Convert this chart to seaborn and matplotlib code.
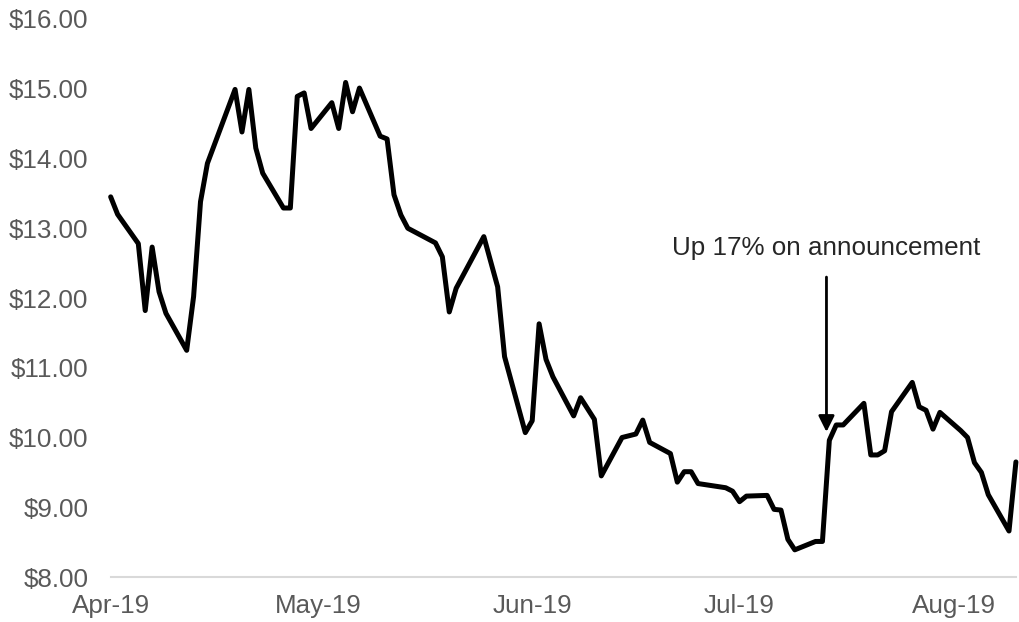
import pandas as pd
import seaborn as sns
import matplotlib.pyplot as plt
import matplotlib.dates as mdates
from matplotlib.ticker import FuncFormatter, MultipleLocator

# Daily closing prices
dates = [
    "2019-04-01", "2019-04-02", "2019-04-05", "2019-04-06", "2019-04-07", "2019-04-08",
    "2019-04-09", "2019-04-12", "2019-04-13", "2019-04-14", "2019-04-15", "2019-04-19",
    "2019-04-20", "2019-04-21", "2019-04-22", "2019-04-23", "2019-04-26", "2019-04-27",
    "2019-04-28", "2019-04-29", "2019-04-30", "2019-05-03", "2019-05-04", "2019-05-05",
    "2019-05-06", "2019-05-07", "2019-05-10", "2019-05-11", "2019-05-12", "2019-05-13",
    "2019-05-14", "2019-05-18", "2019-05-19", "2019-05-20", "2019-05-21", "2019-05-25",
    "2019-05-27", "2019-05-28", "2019-05-31", "2019-06-01", "2019-06-02", "2019-06-03",
    "2019-06-04", "2019-06-07", "2019-06-08", "2019-06-10", "2019-06-11", "2019-06-14",
    "2019-06-16", "2019-06-17", "2019-06-18", "2019-06-21", "2019-06-22", "2019-06-23",
    "2019-06-24", "2019-06-25", "2019-06-29", "2019-06-30", "2019-07-01", "2019-07-02",
    "2019-07-05", "2019-07-06", "2019-07-07", "2019-07-08", "2019-07-09", "2019-07-12",
    "2019-07-13", "2019-07-14", "2019-07-15", "2019-07-16", "2019-07-19", "2019-07-20",
    "2019-07-21", "2019-07-22", "2019-07-23", "2019-07-26", "2019-07-27", "2019-07-28",
    "2019-07-29", "2019-07-30", "2019-08-02", "2019-08-03", "2019-08-04", "2019-08-05",
    "2019-08-06", "2019-08-09", "2019-08-10",
]
prices = [
    13.45, 13.20, 12.78, 11.82, 12.73, 12.09,
    11.78, 11.25, 12.02, 13.38, 13.93, 14.99,
    14.38, 14.99, 14.15, 13.79, 13.29, 13.29,
    14.89, 14.94, 14.43, 14.80, 14.43, 15.09,
    14.67, 15.01, 14.32, 14.28, 13.48, 13.19,
    13.00, 12.79, 12.59, 11.80, 12.14, 12.88,
    12.16, 11.16, 10.07, 10.24, 11.63, 11.12,
    10.87, 10.31, 10.57, 10.26, 9.45, 10.00,
    10.05, 10.25, 9.93, 9.77, 9.36, 9.51,
    9.51, 9.34, 9.28, 9.23, 9.08, 9.16,
    9.17, 8.97, 8.96, 8.54, 8.39, 8.51,
    8.51, 9.96, 10.18, 10.18, 10.49, 9.75,
    9.75, 9.81, 10.37, 10.79, 10.44, 10.39,
    10.12, 10.36, 10.10, 10.00, 9.64, 9.50,
    9.18, 8.66, 9.65,
]

annotation_text = "Up 17% on announcement"

df = pd.DataFrame({"date": pd.to_datetime(dates), "price": prices})

sns.set_theme(style="white")
plt.rcParams["font.family"] = ["Liberation Sans", "DejaVu Sans"]

fig = plt.figure(figsize=(10.2, 6.22), dpi=100)
ax = fig.add_axes([0.1085, 0.0723, 0.8875, 0.8972])

sns.lineplot(data=df, x="date", y="price", ax=ax, color="black", linewidth=3.6,
             solid_joinstyle="round", solid_capstyle="round", clip_on=False)

ax.set_xlim(pd.Timestamp("2019-04-01"), pd.Timestamp("2019-08-10"))
ax.set_ylim(8, 16)
ax.yaxis.set_major_locator(MultipleLocator(1))
ax.yaxis.set_major_formatter(FuncFormatter(lambda v, p: f"${v:.2f}"))
ax.xaxis.set_major_locator(mdates.MonthLocator())
ax.xaxis.set_major_formatter(mdates.DateFormatter("%b-%y"))

for side in ["top", "right", "left"]:
    ax.spines[side].set_visible(False)
ax.spines["bottom"].set_color("#d9d9d9")
ax.spines["bottom"].set_linewidth(1.5)

label_color = "#595959"
ax.tick_params(axis="x", length=6, width=1.5, color="#d9d9d9", pad=6,
               labelsize=18.7, labelcolor=label_color)
ax.tick_params(axis="y", length=0, pad=16, labelsize=18.7, labelcolor=label_color)
ax.set_xlabel("")
ax.set_ylabel("")

# Callout for the jump on the announcement day
callout_x = pd.Timestamp("2019-07-13") + pd.Timedelta(hours=14)
ax.annotate("", xy=(callout_x, 10.08), xytext=(callout_x, 12.30),
            arrowprops=dict(arrowstyle="-|>", color="black", lw=2,
                            mutation_scale=24, shrinkA=0, shrinkB=0))
ax.text(callout_x, 12.62, annotation_text, ha="center", va="baseline",
        fontsize=18.7, color="#262626")

fig.savefig("out.png", dpi=100)
